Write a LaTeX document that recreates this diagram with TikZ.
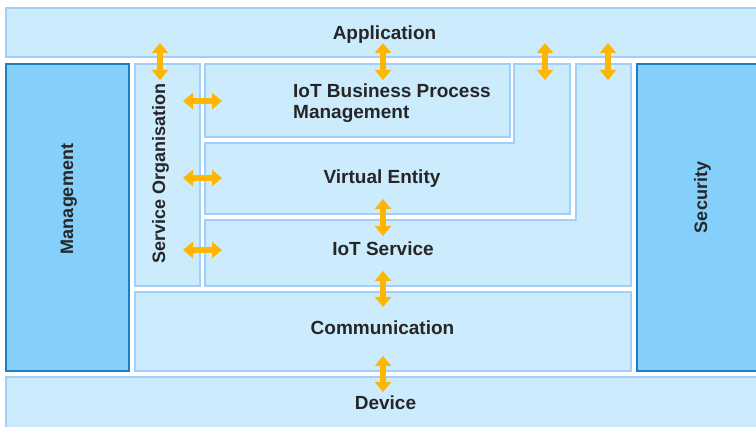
\documentclass[tikz,border=0pt]{standalone}
\usepackage{fontspec}
\newfontfamily\archfont{Liberation Sans}
\usepackage{tikz}
\usetikzlibrary{arrows.meta}
\definecolor{layerfill}{HTML}{CCEBFC}
\definecolor{layerline}{HTML}{A2CFF8}
\definecolor{sidefill}{HTML}{85D0FB}
\definecolor{sideline}{HTML}{1C7FC2}
\definecolor{arrowgold}{HTML}{FFB600}

\begin{document}
\begin{tikzpicture}[x=1pt,y=-1pt,
        layer/.style={fill=layerfill, draw=layerline, line width=2pt},
        side/.style={fill=sidefill, draw=sideline, line width=2.5pt},
        link/.style={arrowgold, line width=5.5pt, {Triangle[width=16pt,length=10pt]}-{Triangle[width=16pt,length=10pt]}},
        lbl/.style={font=\archfont\bfseries\fontsize{19}{21}\selectfont, text=black!85, inner sep=0pt},
        vlbl/.style={lbl, font=\archfont\bfseries\fontsize{18}{21}\selectfont, rotate=90, anchor=base}]
        \useasboundingbox (0,0) rectangle (756,427);
        \clip (0,0) rectangle (756,427);

        % layers
        \draw[layer] (6,8) rectangle (762,57);
        \draw[side] (6,64) rectangle (129,371);
        \draw[layer] (135,64) rectangle (200,286);
        \draw[layer] (205,64) rectangle (510,137);
        \draw[layer] (205,143) -- (514,143) -- (514,64) -- (570,64) -- (570,214) -- (205,214) -- cycle;
        \draw[layer] (205,220) -- (576,220) -- (576,64) -- (631,64) -- (631,286) -- (205,286) -- cycle;
        \draw[layer] (135,292) rectangle (631,371);
        \draw[side] (637,64) rectangle (762,371);
        \draw[layer] (6,377) rectangle (762,432);

        % labels
        \node[lbl, anchor=base] (app) at (384.5,40) {Application};
        \node[lbl, anchor=north west, align=left] (bpm) at (293,84) {IoT Business Process\\Management};
        \node[lbl, anchor=base] (ve) at (382,184) {Virtual Entity};
        \node[lbl, anchor=base] (ios) at (383,256) {IoT Service};
        \node[lbl, anchor=base] (comm) at (382.5,335) {Communication};
        \node[lbl, anchor=base] (dev) at (385.5,410) {Device};
        \node[vlbl] (mgmt) at (73,199) {Management};
        \node[vlbl] (svc) at (165,173.5) {Service Organisation};
        \node[vlbl] (sec) at (707,197.5) {Security};

        % arrow ends
        \coordinate (a1) at (160,43); \coordinate (b1) at (160,80);
        \coordinate (a2) at (383,43); \coordinate (b2) at (383,80);
        \coordinate (a3) at (545,43); \coordinate (b3) at (545,80);
        \coordinate (a4) at (608,43); \coordinate (b4) at (608,80);
        \coordinate (h1) at (183,101); \coordinate (k1) at (222,101);
        \coordinate (h2) at (183,178); \coordinate (k2) at (222,178);
        \coordinate (h3) at (183,250); \coordinate (k3) at (222,250);
        \coordinate (a5) at (383,199); \coordinate (b5) at (383,236);
        \coordinate (a6) at (383,271); \coordinate (b6) at (383,307);
        \coordinate (a7) at (383,356); \coordinate (b7) at (383,392);

        \draw[link] (a1) -- (b1);
        \draw[link] (a2) -- (b2);
        \draw[link] (a3) -- (b3);
        \draw[link] (a4) -- (b4);
        \draw[link] (h1) -- (k1);
        \draw[link] (h2) -- (k2);
        \draw[link] (h3) -- (k3);
        \draw[link] (a5) -- (b5);
        \draw[link] (a6) -- (b6);
        \draw[link] (a7) -- (b7);
\end{tikzpicture}
\end{document}
